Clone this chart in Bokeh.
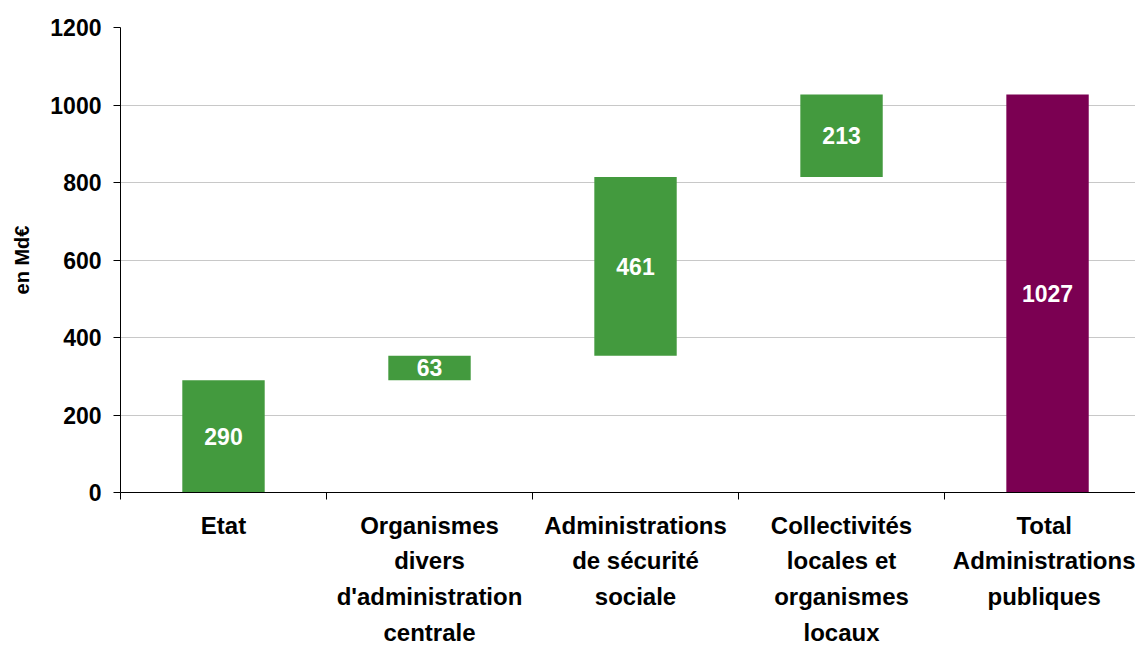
from bokeh.plotting import figure
from bokeh.models import Range1d, FixedTicker, ColumnDataSource
from bokeh.core.properties import value
from bokeh.embed import file_html
from bokeh.resources import INLINE

categories = [
    "Etat",
    "Organismes\ndivers\nd'administration\ncentrale",
    "Administrations\nde sécurité\nsociale",
    "Collectivités\nlocales et\norganismes\nlocaux",
    "Total\nAdministrations\npubliques",
]
amounts = [290, 63, 461, 213, 1027]
is_total = [False, False, False, False, True]
y_ticks = [0, 200, 400, 600, 800, 1000, 1200]

GREEN = "#439a3e"
PURPLE = "#7b0052"
FONT = "Liberation Sans"

# waterfall bottoms / tops
bottoms, tops = [], []
run = 0
for a, t in zip(amounts, is_total):
    if t:
        bottoms.append(0)
        tops.append(a)
    else:
        bottoms.append(run)
        tops.append(run + a)
        run += a

centers = [i + 0.5 for i in range(len(categories))]
src = ColumnDataSource(dict(
    x=centers,
    bottom=bottoms,
    top=tops,
    mid=[(b + t) / 2 for b, t in zip(bottoms, tops)],
    label=[str(a) for a in amounts],
    color=[PURPLE if t else GREEN for t in is_total],
))

W, H = 1135, 649
p = figure(width=W, height=H, output_backend="svg", toolbar_location=None,
           x_range=Range1d(0, 4.927), y_range=Range1d(0, 1200),
           min_border_left=120, min_border_top=27, min_border_right=0,
           min_border_bottom=157)
p.outline_line_color = None
p.background_fill_color = "white"
p.border_fill_color = "white"

p.vbar(x="x", bottom="bottom", top="top", width=0.4, color="color",
       line_color=None, source=src)
p.text(x="x", y="mid", text="label", source=src, text_color="white",
       text_font=value(FONT), text_font_style="bold", text_font_size="23px",
       text_align="center", text_baseline="middle")

# y axis
p.yaxis.ticker = FixedTicker(ticks=y_ticks)
p.yaxis.axis_line_color = "black"
p.yaxis.major_tick_line_color = "black"
p.yaxis.major_tick_out = 7
p.yaxis.major_tick_in = 0
p.yaxis.minor_tick_line_color = None
p.yaxis.major_label_text_font = FONT
p.yaxis.major_label_text_font_style = "bold"
p.yaxis.major_label_text_font_size = "23px"
p.yaxis.major_label_text_color = "black"
p.yaxis.major_label_standoff = 12
p.yaxis.axis_label = "en Md€"
p.yaxis.axis_label_text_font = FONT
p.yaxis.axis_label_text_font_style = "bold"
p.yaxis.axis_label_text_font_size = "20px"
p.yaxis.axis_label_text_color = "black"
p.yaxis.axis_label_standoff = 14

# x axis
p.xaxis.ticker = FixedTicker(ticks=centers, minor_ticks=[0, 1, 2, 3, 4, 5])
p.xaxis.major_label_overrides = {c: lab for c, lab in zip(centers, categories)}
p.xaxis.axis_line_color = "black"
p.xaxis.major_tick_line_color = None
p.xaxis.major_tick_out = 0
p.xaxis.major_tick_in = 0
p.xaxis.minor_tick_line_color = "black"
p.xaxis.minor_tick_out = 7
p.xaxis.minor_tick_in = 0
p.xaxis.major_label_text_font = FONT
p.xaxis.major_label_text_font_style = "bold"
p.xaxis.major_label_text_font_size = "24px"
p.xaxis.major_label_text_color = "black"
p.xaxis.major_label_text_line_height = 1.33
p.xaxis.major_label_standoff = 12

p.xgrid.grid_line_color = None
p.ygrid.ticker = FixedTicker(ticks=y_ticks)
p.ygrid.grid_line_color = "#c8c8c8"
p.ygrid.grid_line_width = 1

open("out.html", "w").write(file_html(p, INLINE))
